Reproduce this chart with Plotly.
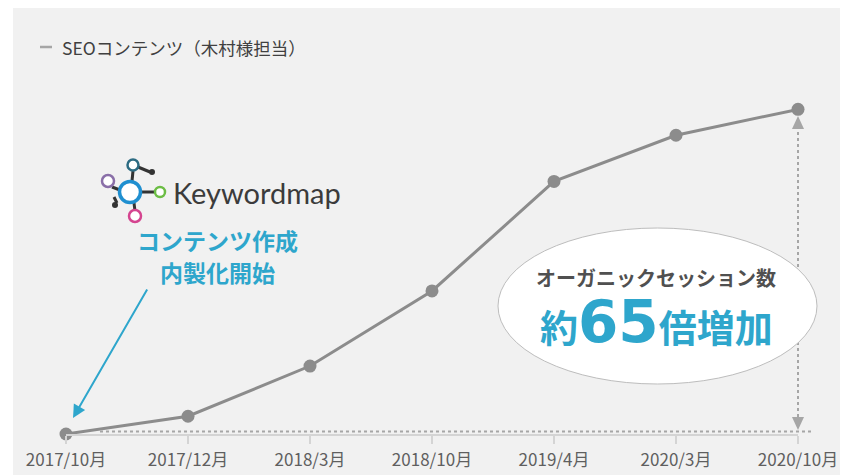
import plotly.graph_objects as go

# ---- data ----
periods = ["2017/10月", "2017/12月", "2018/3月", "2018/10月", "2019/4月", "2020/3月", "2020/10月"]
sessions = [100, 450, 1440, 2920, 5080, 5990, 6500]
series_name = "SEOコンテンツ（木村様担当）"

# page body has an 8px margin: figure is drawn in a frame offset by (8, 8)
OFF = 8
W, H = 840, 467
ML, MR, MT, MB = 58, 50, 76, 41
PW, PH = W - ML - MR, H - MT - MB


def px(x):
    return (x - OFF - ML) / PW


def py(y):
    return (H - MB - (y - OFF)) / PH


BLUE = "#2ea6cc"
GRAY_LINE = "#8c8c8c"
JP = "Noto Sans CJK JP"

fig = go.Figure()
fig.add_trace(go.Scatter(
    x=periods, y=sessions, mode="lines+markers",
    line=dict(color=GRAY_LINE, width=3),
    marker=dict(color=GRAY_LINE, size=13),
    cliponaxis=False, showlegend=False, name=series_name,
))

shapes = []
# background panel
shapes.append(dict(type="rect", xref="paper", yref="paper", x0=px(13), x1=px(860), y0=py(480), y1=py(7),
                   fillcolor="#f1f1f1", line=dict(width=0), layer="below"))
# legend dash
shapes.append(dict(type="line", xref="paper", yref="paper", x0=px(40), x1=px(52), y0=py(47), y1=py(47),
                   line=dict(color="#a6a6a6", width=2.5)))
# dotted baseline
shapes.append(dict(type="line", xref="paper", yref="paper", x0=px(100), x1=px(811), y0=py(431.5), y1=py(431.5),
                   line=dict(color="#a6a6a6", width=2, dash="dot")))
# vertical dotted arrow
shapes.append(dict(type="line", xref="paper", yref="paper", x0=px(798), x1=px(798), y0=py(126), y1=py(420),
                   line=dict(color="#a6a6a6", width=2, dash="dot")))


def tri(tipx, tipy, basey, half=6):
    pts = [(tipx, tipy), (tipx - half, basey), (tipx + half, basey)]
    d = "M " + " L ".join(f"{px(a):.5f},{py(b):.5f}" for a, b in pts) + " Z"
    return dict(type="path", xref="paper", yref="paper", path=d, fillcolor="#a6a6a6", line=dict(width=0))


shapes.append(tri(798, 116, 129))
shapes.append(tri(798, 430, 417))

# ellipse
shapes.append(dict(type="circle", xref="paper", yref="paper", x0=px(498), x1=px(817), y0=py(384), y1=py(228),
                   fillcolor="white", line=dict(color="#bdbdbd", width=1)))


# keywordmap logo
def ring(cx, cy, r, color, w=2.5):
    return dict(type="circle", xref="paper", yref="paper", x0=px(cx - r), x1=px(cx + r), y0=py(cy + r), y1=py(cy - r),
                fillcolor="white", line=dict(color=color, width=w))


def seg(x0, y0, x1, y1, w=3, color="#333333"):
    return dict(type="line", xref="paper", yref="paper", x0=px(x0), x1=px(x1), y0=py(y0), y1=py(y1),
                line=dict(color=color, width=w))


shapes += [
    seg(133, 171, 132, 181), seg(138, 167, 150, 172), seg(112, 187, 120, 190), seg(114, 197, 117, 203),
    seg(142, 192, 155, 192), seg(134, 203, 135, 211),
]
shapes += [
    ring(133, 165, 5.5, "#2c6b82"),
    ring(108, 181, 6, "#8a6fa8"),
    ring(130, 192, 10.5, "#1f8fd0", 3.5),
    ring(160, 192, 5, "#6cbd45"),
    ring(135, 216, 6, "#d4448f"),
    dict(type="circle", xref="paper", yref="paper", x0=px(149), x1=px(155), y0=py(175), y1=py(169),
         fillcolor="#333333", line=dict(width=0)),
    dict(type="circle", xref="paper", yref="paper", x0=px(112), x1=px(118), y0=py(208), y1=py(202),
         fillcolor="#333333", line=dict(width=0)),
]

annotations = [
    dict(xref="paper", yref="paper", x=px(60), y=py(47), xanchor="left", yanchor="middle",
         text=series_name, showarrow=False, font=dict(family=JP, size=17.5, color="#404040")),
    dict(xref="paper", yref="paper", x=px(171), y=py(192), xanchor="left", yanchor="middle",
         text="Keywordmap", showarrow=False, font=dict(family="Lato", size=29, color="#3b3b3b")),
    dict(xref="paper", yref="paper", x=px(217), y=py(240), xanchor="center", yanchor="middle",
         text="<b>コンテンツ作成</b>", showarrow=False,
         font=dict(family=JP, size=23, color=BLUE)),
    dict(xref="paper", yref="paper", x=px(217), y=py(272), xanchor="center", yanchor="middle",
         text="<b>内製化開始</b>", showarrow=False,
         font=dict(family=JP, size=23, color=BLUE)),
    dict(xref="paper", yref="paper", x=px(656), y=py(277), xanchor="center", yanchor="middle",
         text="<b>オーガニックセッション数</b>", showarrow=False, font=dict(family=JP, size=20, color="#505050")),
    dict(xref="paper", yref="paper", x=px(656), y=py(322), xanchor="center", yanchor="middle",
         text="<b>約<span style='font-size:58px;font-family:DejaVu Sans'>65</span>倍増加</b>", showarrow=False,
         font=dict(family=JP, size=38, color=BLUE)),
    dict(xref="paper", yref="paper", x=px(73), y=py(418), axref="pixel", ayref="pixel",
         ax=75, ay=-130, text="", showarrow=True, arrowhead=2, arrowsize=1.3, arrowwidth=2,
         arrowcolor=BLUE, standoff=0),
]

fig.update_layout(
    width=W, height=H,
    margin=dict(l=ML, r=MR, t=MT, b=MB, autoexpand=False),
    paper_bgcolor="white", plot_bgcolor="rgba(0,0,0,0)",
    shapes=shapes, annotations=annotations,
    xaxis=dict(type="category", range=[0, 6], showgrid=False, zeroline=False, automargin=False,
               showline=True, linecolor="#d4d4d4", linewidth=2,
               ticks="outside", ticklen=8, tickwidth=2, tickcolor="#d4d4d4",
               ticklabelstandoff=2,
               tickfont=dict(family=JP, size=17, color="#5f5f5f")),
    yaxis=dict(range=[100, 7000], visible=False, showgrid=False, zeroline=False, automargin=False),
    font=dict(family=JP),
)

fig.write_html("out.html")
